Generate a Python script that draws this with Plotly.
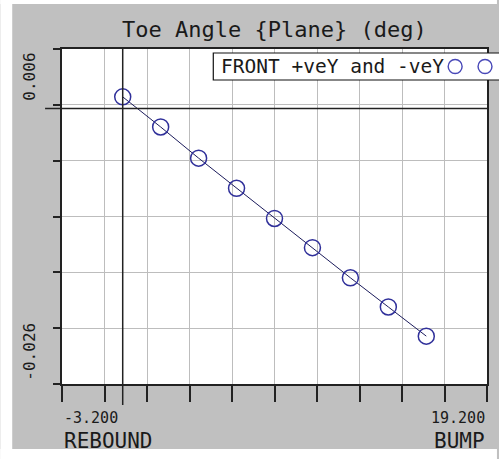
import plotly.graph_objects as go

# ---- data ----
travel = [0, 2, 4, 6, 8, 10, 12, 14, 16]
toe = [0.00110, -0.00177, -0.00474, -0.00761, -0.01049, -0.01327, -0.01614, -0.01892, -0.02170]
title_text = "Toe Angle {Plane} (deg)"
legend_text = "FRONT +veY and -veY"
x_left_name, x_right_name = "REBOUND", "BUMP"

# ---- ranges (20% padding like the source tool) ----
dx = max(travel) - min(travel)
x_lo, x_hi = min(travel) - 0.2 * dx, max(travel) + 0.2 * dx
dy = max(toe) - min(toe)
y_lo, y_hi = min(toe) - 0.2 * dy, max(toe) + 0.2 * dy

W, H = 499, 459
L, R, T, B = 62, 10, 49, 75
PW, PH = W - L - R, H - T - B

def px(x):
    return (x - L) / PW

def py(y):
    return (H - B - y) / PH

GRAY = "#c0c0c0"
FONT = "DejaVu Sans Mono"
TXT = "#1a1a1a"

fig = go.Figure()
fig.add_trace(go.Scatter(
    x=travel, y=toe, mode="lines+markers",
    line=dict(color="#1c1c5c", width=1),
    marker=dict(symbol="circle-open", size=16, color="#30309a", line=dict(width=1.5, color="#30309a")),
    showlegend=False, hoverinfo="x+y",
))

shapes = []
# white outer strips
for (x0, y0, x1, y1) in [(0, 0, 12, H), (0, 0, W, 4), (0, 449, W, H)]:
    shapes.append(dict(type="rect", xref="paper", yref="paper",
                       x0=px(x0), x1=px(x1), y0=py(y1), y1=py(y0),
                       fillcolor="white", line=dict(width=0), layer="below"))
# zero lines extended beyond plot
shapes.append(dict(type="line", xref="x", yref="paper", x0=0, x1=0, y0=py(405), y1=1,
                   line=dict(color="#222222", width=1.5)))
shapes.append(dict(type="line", xref="paper", yref="y", x0=px(45), x1=1, y0=0, y1=0,
                   line=dict(color="#222222", width=1.5)))
# bottom axis extension to the left
shapes.append(dict(type="line", xref="paper", yref="paper", x0=px(55), x1=0, y0=0, y1=0,
                   line=dict(color="#222222", width=1.5)))
# legend box
shapes.append(dict(type="rect", xref="paper", yref="paper",
                   x0=px(214), x1=px(506), y0=py(80), y1=py(53),
                   fillcolor="white", line=dict(color="#111111", width=1.2)))
for cx in (457, 487):
    r = 7
    shapes.append(dict(type="circle", xref="paper", yref="paper",
                       x0=px(cx - r), x1=px(cx + r), y0=py(66.5 + r), y1=py(66.5 - r),
                       line=dict(color="#4848b8", width=1.4)))

ann = []
ann.append(dict(text=title_text, xref="paper", yref="paper", x=px(275.5), y=py(29),
                xanchor="center", yanchor="middle", showarrow=False,
                font=dict(family=FONT, size=22, color=TXT)))
ann.append(dict(text=legend_text, xref="paper", yref="paper", x=px(220), y=py(66.5),
                xanchor="left", yanchor="middle", showarrow=False,
                font=dict(family=FONT, size=19.5, color=TXT)))
ann.append(dict(text=f"{x_lo:.3f}", xref="paper", yref="paper", x=0, y=py(417.5),
                xanchor="left", yanchor="middle", showarrow=False,
                font=dict(family=FONT, size=15, color=TXT)))
ann.append(dict(text=f"{x_hi:.3f}", xref="paper", yref="paper", x=1, y=py(417.5),
                xanchor="right", yanchor="middle", showarrow=False,
                font=dict(family=FONT, size=15, color=TXT)))
ann.append(dict(text=x_left_name, xref="paper", yref="paper", x=0, y=py(440.5),
                xanchor="left", yanchor="middle", showarrow=False,
                font=dict(family=FONT, size=21, color=TXT)))
ann.append(dict(text=x_right_name, xref="paper", yref="paper", x=1, y=py(440.5),
                xanchor="right", yanchor="middle", showarrow=False,
                font=dict(family=FONT, size=21, color=TXT)))
ann.append(dict(text=f"{y_hi:.3f}", xref="paper", yref="paper", x=px(29), y=py(76.5),
                xanchor="center", yanchor="middle", showarrow=False, textangle=-90,
                font=dict(family=FONT, size=16, color=TXT)))
ann.append(dict(text=f"{y_lo:.3f}", xref="paper", yref="paper", x=px(29), y=py(351.5),
                xanchor="center", yanchor="middle", showarrow=False, textangle=-90,
                font=dict(family=FONT, size=16, color=TXT)))

fig.update_layout(
    width=W, height=H,
    margin=dict(l=L, r=R, t=T, b=B, pad=0),
    paper_bgcolor=GRAY, plot_bgcolor="white",
    shapes=shapes, annotations=ann, showlegend=False,
    xaxis=dict(range=[x_lo, x_hi], tick0=x_lo, dtick=(x_hi - x_lo) / 10,
               showgrid=True, gridcolor="#bdbdbd", gridwidth=1, zeroline=False,
               showticklabels=False, ticks="outside", ticklen=16, tickcolor="#222222", tickwidth=1.5,
               showline=True, linecolor="#222222", linewidth=1.5, mirror=True),
    yaxis=dict(range=[y_lo, y_hi], tick0=y_lo, dtick=(y_hi - y_lo) / 6,
               showgrid=True, gridcolor="#bdbdbd", gridwidth=1, zeroline=False,
               showticklabels=False, ticks="outside", ticklen=7, tickcolor="#222222", tickwidth=1.5,
               showline=True, linecolor="#222222", linewidth=1.5, mirror=True),
)

fig.write_html("out.html", config={"displayModeBar": False},
               post_script="document.body.style.margin='0';document.body.style.overflow='hidden';"
                           "document.body.style.background='#c0c0c0';")
